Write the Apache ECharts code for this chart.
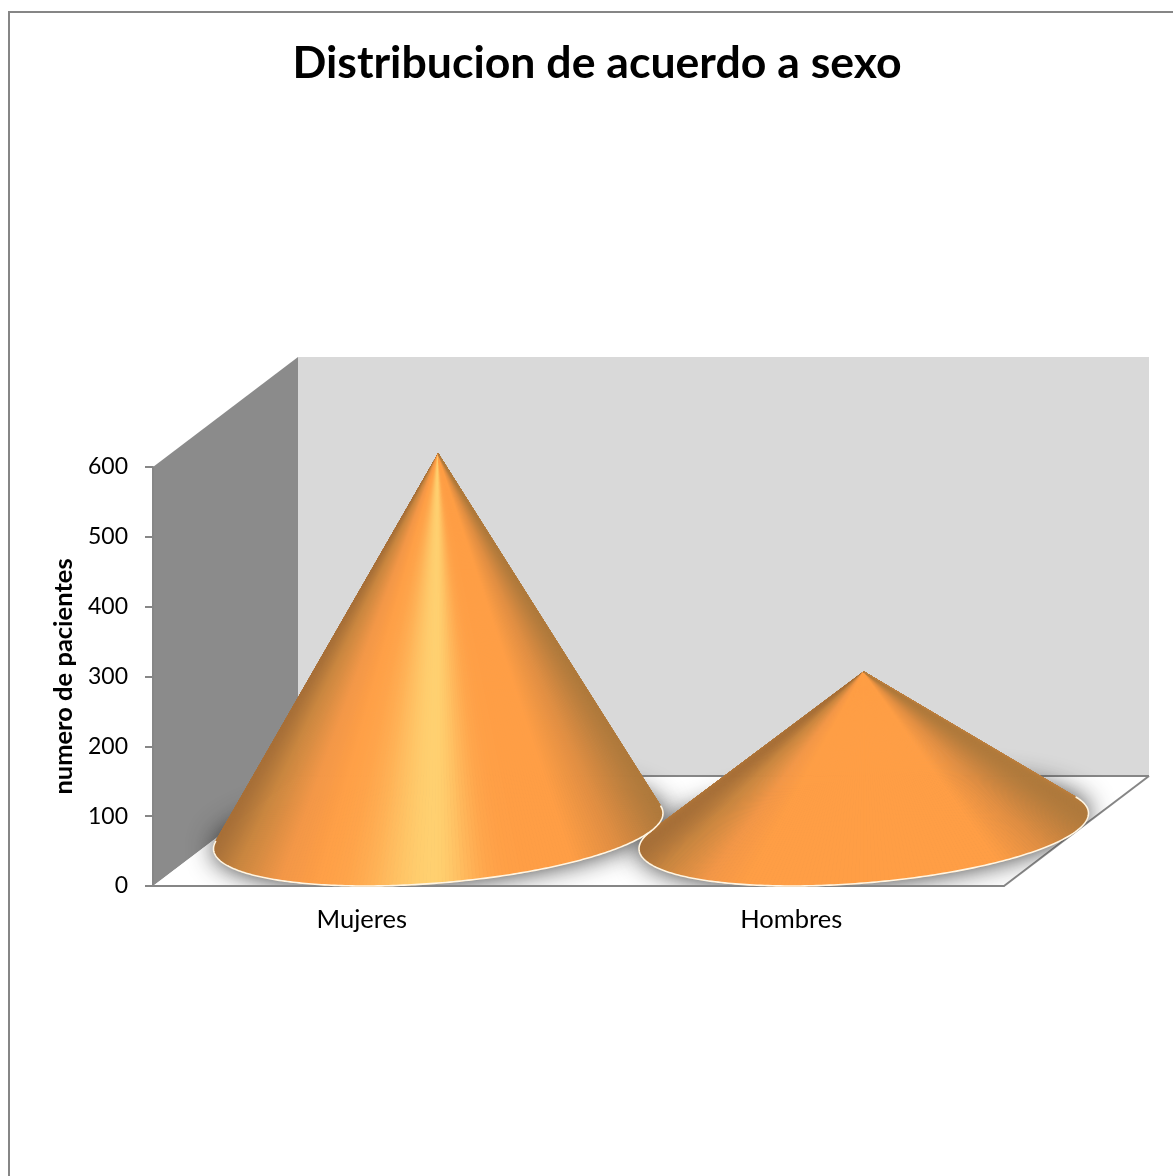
<!DOCTYPE html>
<html>
<head>
<meta charset="utf-8">
<style>html,body{margin:0;padding:0;background:#fff}#chart{width:1173px;height:1176px}</style>
<script src="https://cdn.jsdelivr.net/npm/echarts@6/dist/echarts.min.js"></script>
</head>
<body>
<div id="chart"></div>
<script>
// Pacientes por sexo
const categories = ['Mujeres', 'Hombres'];
const patients = [540, 228];
const yTicks = { min: 0, max: 600, interval: 100 };

// Profundidad de la caja 3D, en píxeles
const DEPTH_X = 145;
const DEPTH_Y = 110;
const SLICES = 200;

const RAMP = [
  [0, [168, 112, 56]], [0.05, [201, 134, 63]], [0.15, [243, 151, 71]], [0.24, [255, 158, 69]],
  [0.8, [255, 158, 69]], [0.9, [224, 142, 66]], [1, [176, 122, 60]]
];
const HIGHLIGHT = [255, 208, 112];

function shade(f, strength) {
  let i = 0;
  while (i < RAMP.length - 2 && f > RAMP[i + 1][0]) i++;
  const a = RAMP[i], b = RAMP[i + 1];
  const k = Math.min(1, Math.max(0, (f - a[0]) / (b[0] - a[0])));
  const d = f - 0.49;
  const w = strength * Math.exp(-Math.pow(d / (d < 0 ? 0.14 : 0.09), 2));
  const c = a[1].map((v, n) => {
    const base = v + (b[1][n] - v) * k;
    return Math.round(base + (HIGHLIGHT[n] - base) * w);
  });
  return 'rgb(' + c.join(',') + ')';
}

// Esquinas de la caja 3D a partir de las escalas de los ejes
function boxCorners(api) {
  const band = api.size([1, 0])[0];
  const x0 = api.coord([0, 0])[0] - band / 2;
  const x1 = api.coord([categories.length - 1, 0])[0] + band / 2;
  const y0 = api.coord([0, yTicks.min])[1];
  const y1 = api.coord([0, yTicks.max])[1];
  return { x0, x1, y0, y1, bx0: x0 + DEPTH_X, bx1: x1 + DEPTH_X, by0: y0 - DEPTH_Y, by1: y1 - DEPTH_Y };
}

// Base elíptica inscrita en el paralelogramo de la categoría y arco visible del cono
function coneGeometry(api) {
  const zero = api.coord([api.value(0), 0]);
  const top = api.coord([api.value(0), api.value(1)]);
  const rx = api.size([1, 0])[0] / 2;
  const dx = DEPTH_X / 2, dy = DEPTH_Y / 2;
  const cx = zero[0] + dx, cy = zero[1] - dy;
  const h = zero[1] - top[1];
  const apex = [cx, cy - h];
  const at = t => [cx + rx * Math.cos(t) + dx * Math.sin(t), cy - dy * Math.sin(t)];
  const va = h / dy, ua = -dx * va / rx;
  const r = Math.hypot(ua, va);
  const phi = Math.atan2(va, ua);
  const alpha = r > 1 ? Math.acos(1 / r) : Math.PI;
  return { apex, at, start: phi + alpha, end: phi + 2 * Math.PI - alpha, steep: h / rx };
}

function renderBox(params, api) {
  const b = boxCorners(api);
  const poly = (points, fill) => ({ type: 'polygon', shape: { points }, style: { fill, stroke: null } });
  const line = (p, q) => ({
    type: 'line',
    z2: 20,
    shape: { x1: p[0], y1: p[1], x2: q[0], y2: q[1] },
    style: { stroke: '#868686', lineWidth: 2 }
  });
  return {
    type: 'group',
    children: [
      poly([[b.bx0, b.by1], [b.bx1, b.by1], [b.bx1, b.by0], [b.bx0, b.by0]], '#D9D9D9'),
      poly([[b.x0, b.y1], [b.bx0, b.by1], [b.bx0, b.by0], [b.x0, b.y0]], '#8B8B8B'),
      poly([[b.x0, b.y0], [b.bx0, b.by0], [b.bx1, b.by0], [b.x1, b.y0]], '#FFFFFF'),
      line([b.bx0, b.by0], [b.bx1, b.by0]),
      line([b.x1, b.y0], [b.bx1, b.by0])
    ]
  };
}

// Sombra difusa de la base, recortada al contorno de la caja
function renderShadow(params, api) {
  const g = coneGeometry(api);
  const b = boxCorners(api);
  const points = [];
  for (let i = 0; i < 120; i++) points.push(g.at(i / 120 * Math.PI * 2));
  return {
    type: 'group',
    clipPath: {
      type: 'polygon',
      shape: { points: [[b.x0, b.y0], [b.x1, b.y0], [b.bx1, b.by0], [b.bx1, b.by1], [b.bx0, b.by1], [b.x0, b.y1]] }
    },
    children: [{
      type: 'polygon',
      shape: { points },
      style: { fill: '#777', shadowBlur: 26, shadowColor: 'rgba(40,40,40,0.95)' }
    }]
  };
}

function renderCone(params, api) {
  const g = coneGeometry(api);
  const order = categories.length - params.dataIndex;
  const arc = [];
  for (let i = 0; i <= SLICES; i++) arc.push(g.at(g.start + (g.end - g.start) * i / SLICES));
  const xs = arc.map(p => p[0]);
  const xa = Math.min.apply(null, xs), xb = Math.max.apply(null, xs);
  const strength = Math.min(1, Math.max(0, (g.steep - 0.8) / 0.97));
  const children = [];
  for (let i = 0; i < SLICES; i++) {
    const f = ((arc[i][0] + arc[i + 1][0]) / 2 - xa) / (xb - xa);
    const color = shade(f, strength);
    children.push({
      type: 'polygon',
      z2: order,
      shape: { points: [g.apex, arc[i], arc[i + 1]] },
      style: { fill: color, stroke: color, lineWidth: 1 }
    });
  }
  // Borde claro de la base
  children.push({
    type: 'polyline',
    z2: order,
    shape: { points: arc },
    style: { fill: null, stroke: '#FFF6E4', lineWidth: 1.6, lineCap: 'round' }
  });
  return { type: 'group', children };
}

const chartData = categories.map((c, i) => [i, patients[i]]);
const FONT = 'Lato';

const chart = echarts.init(document.getElementById('chart'), null, { renderer: 'canvas' });
chart.setOption({
  animation: false,
  backgroundColor: '#fff',
  title: {
    text: 'Distribucion de acuerdo a sexo',
    left: 592,
    top: 36,
    textAlign: 'center',
    textStyle: { fontFamily: FONT, fontWeight: 'bold', fontSize: 44.6, color: '#000' }
  },
  graphic: [{
    type: 'polyline',
    silent: true,
    shape: { points: [[9, 1176], [9, 12], [1173, 12]] },
    style: { fill: null, stroke: '#868686', lineWidth: 2 }
  }],
  grid: { left: 153, right: 169, top: 467, bottom: 290 },
  xAxis: {
    type: 'category',
    data: categories.map((name, i) => ({
      value: name,
      textStyle: i === 0 ? { padding: [0, 8, 0, 0] } : {}
    })),
    z: 5,
    axisLine: { lineStyle: { color: '#868686', width: 2 } },
    axisTick: { show: false },
    axisLabel: { fontFamily: FONT, fontSize: 25.5, color: '#000', margin: 21 }
  },
  yAxis: {
    type: 'value',
    min: yTicks.min,
    max: yTicks.max,
    interval: yTicks.interval,
    z: 5,
    name: 'numero de pacientes',
    nameLocation: 'middle',
    nameRotate: 90,
    nameGap: 76,
    nameTextStyle: { fontFamily: FONT, fontWeight: 'bold', fontSize: 25.5, color: '#000' },
    splitLine: { show: false },
    axisLine: { show: true, lineStyle: { color: '#868686', width: 2 } },
    axisTick: { show: true, length: 8, lineStyle: { color: '#868686', width: 2 } },
    axisLabel: { fontFamily: FONT, fontSize: 23, color: '#000', margin: 25, padding: [4, 0, 0, 0] }
  },
  series: [
    { type: 'custom', name: 'caja', z: 1, silent: true, clip: false, data: [chartData[0]], encode: { x: 0, y: 1 }, renderItem: renderBox },
    { type: 'custom', name: 'sombra', z: 2, silent: true, clip: false, data: chartData, encode: { x: 0, y: 1 }, renderItem: renderShadow },
    { type: 'custom', name: 'pacientes', z: 6, silent: true, clip: false, data: chartData, encode: { x: 0, y: 1 }, renderItem: renderCone }
  ]
});
</script>
</body>
</html>
